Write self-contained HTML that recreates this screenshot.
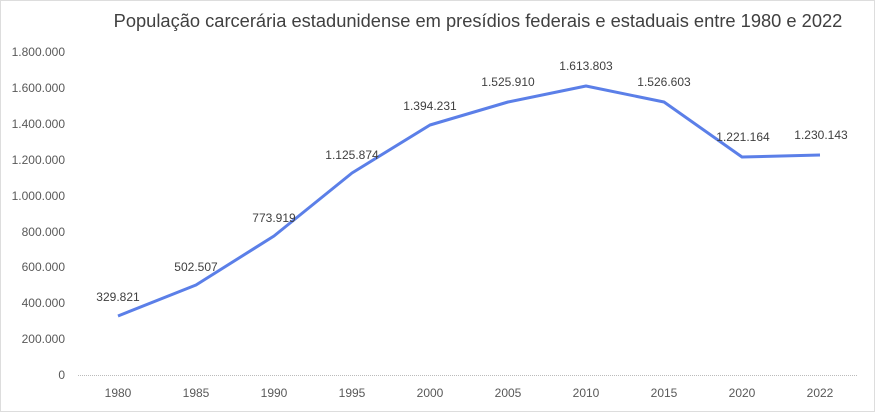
<!DOCTYPE html>
<html><head><meta charset="utf-8"><style>
html,body{margin:0;padding:0;background:#fff;}
svg{display:block;font-family:"Liberation Sans",sans-serif;}
</style></head><body>
<svg width="876" height="413" viewBox="0 0 876 413" xmlns="http://www.w3.org/2000/svg">
<rect x="0.5" y="0.5" width="874" height="411" fill="#fff" stroke="#bbb" stroke-dasharray="1,1"/>
<text x="478" y="27" font-size="18.3" fill="#404040" text-anchor="middle">População carcerária estadunidense em presídios federais e estaduais entre 1980 e 2022</text>
<g font-size="12" fill="#595959" text-anchor="end">
<text x="65" y="379">0</text>
<text x="65" y="343">200.000</text>
<text x="65" y="307">400.000</text>
<text x="65" y="271">600.000</text>
<text x="65" y="236">800.000</text>
<text x="65" y="200">1.000.000</text>
<text x="65" y="164">1.200.000</text>
<text x="65" y="128">1.400.000</text>
<text x="65" y="92">1.600.000</text>
<text x="65" y="56">1.800.000</text>
</g>
<line x1="78" y1="375.5" x2="858" y2="375.5" stroke="#bbb" stroke-dasharray="1,1"/>
<g font-size="12" fill="#595959" text-anchor="middle">
<text x="118" y="397">1980</text><text x="196" y="397">1985</text><text x="274" y="397">1990</text>
<text x="352" y="397">1995</text><text x="430" y="397">2000</text><text x="508" y="397">2005</text>
<text x="586" y="397">2010</text><text x="664" y="397">2015</text><text x="742" y="397">2020</text>
<text x="820" y="397">2022</text>
</g>
<polyline fill="none" stroke="#5b7fe8" stroke-width="3" stroke-linejoin="round"
points="118,316 196,285 274,236 352,173 430,125 508,102 586,86 664,102 742,157 820,155"/>
<g font-size="12" fill="#404040" text-anchor="middle">
<text x="118" y="301">329.821</text>
<text x="196" y="271">502.507</text>
<text x="274" y="222">773.919</text>
<text x="352" y="159">1.125.874</text>
<text x="430" y="110">1.394.231</text>
<text x="508" y="86">1.525.910</text>
<text x="586" y="70">1.613.803</text>
<text x="664" y="86">1.526.603</text>
<text x="743" y="141">1.221.164</text>
<text x="821" y="139">1.230.143</text>
</g>
</svg>
</body></html>
